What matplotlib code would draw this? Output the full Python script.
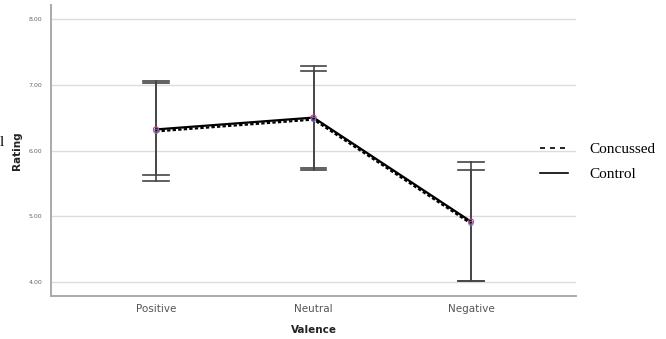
import matplotlib
matplotlib.use("Agg")
import matplotlib.pyplot as plt
from matplotlib.lines import Line2D

categories = ["Positive", "Neutral", "Negative"]
control_mean = [6.32, 6.50, 4.92]
control_upper = [7.05, 7.29, 5.83]
control_lower = [5.54, 5.71, 4.02]
concussed_mean = [6.29, 6.47, 4.89]
concussed_upper = [7.03, 7.21, 5.71]
concussed_lower = [5.63, 5.74, 4.02]
yticks = [4.0, 5.0, 6.0, 7.0, 8.0]

fig = plt.figure(figsize=(6.66, 3.39), dpi=100)
ax = fig.add_axes([51/666, 43/339, (576-51)/666, (296-5)/339])

x = list(range(len(categories)))

for yt in yticks:
    ax.axhline(yt, color="#dcdcdc", lw=1.0, zorder=0)

err_color = "#444444"
for i in x:
    for lo, hi in ((control_lower[i], control_upper[i]), (concussed_lower[i], concussed_upper[i])):
        ax.plot([i, i], [lo, hi], color=err_color, lw=1.2, zorder=2)
        for v in (lo, hi):
            ax.plot([i - 0.08, i + 0.08], [v, v], color=err_color, lw=1.2, zorder=2)

ax.plot(x, concussed_mean, color="black", lw=1.6, ls=(0, (1.5, 1.0)), zorder=3)
ax.plot(x, control_mean, color="black", lw=1.6, zorder=4)
ax.scatter(x, control_mean, s=14, facecolor="none", edgecolor="#d04080", lw=0.8, zorder=5)
ax.scatter(x, concussed_mean, s=10, facecolor="none", edgecolor="#6080d0", lw=0.6, zorder=5)

ax.set_xlim(-0.667, 2.667)
ax.set_ylim(3.79, 8.21)
ax.set_xticks(x)
ax.set_xticklabels(categories, fontsize=7.5, color="#555555")
ax.set_yticks(yticks)
ax.set_yticklabels([f"{v:.2f}" for v in yticks], fontsize=4.5, color="#666666")
ax.tick_params(length=0, pad=6)
for s in ("top", "right"):
    ax.spines[s].set_visible(False)
for s in ("left", "bottom"):
    ax.spines[s].set_color("#aaaaaa")
    ax.spines[s].set_linewidth(1.4)
ax.set_xlabel("Valence", fontsize=7.5, fontweight="bold", color="#222222", labelpad=8)
ax.set_ylabel("Rating", fontsize=7.5, fontweight="bold", color="#222222")
ax.yaxis.set_label_coords(-0.055, 0.5)

fig.text(0.0, 0.581, "l", family="Liberation Serif", fontsize=11, va="center", ha="left")

handles = [Line2D([], [], color="black", lw=1.2, ls=(0, (3.0, 3.0))),
           Line2D([], [], color="black", lw=1.2)]
fig.legend(handles, ["Concussed", "Control"], loc="center left",
           bbox_to_anchor=(540/666, 0.523), frameon=False,
           borderaxespad=0, borderpad=0,
           prop={"family": "Liberation Serif", "size": 11},
           handlelength=1.85, handletextpad=1.4, labelspacing=0.75)

fig.savefig("out.png", dpi=100)
